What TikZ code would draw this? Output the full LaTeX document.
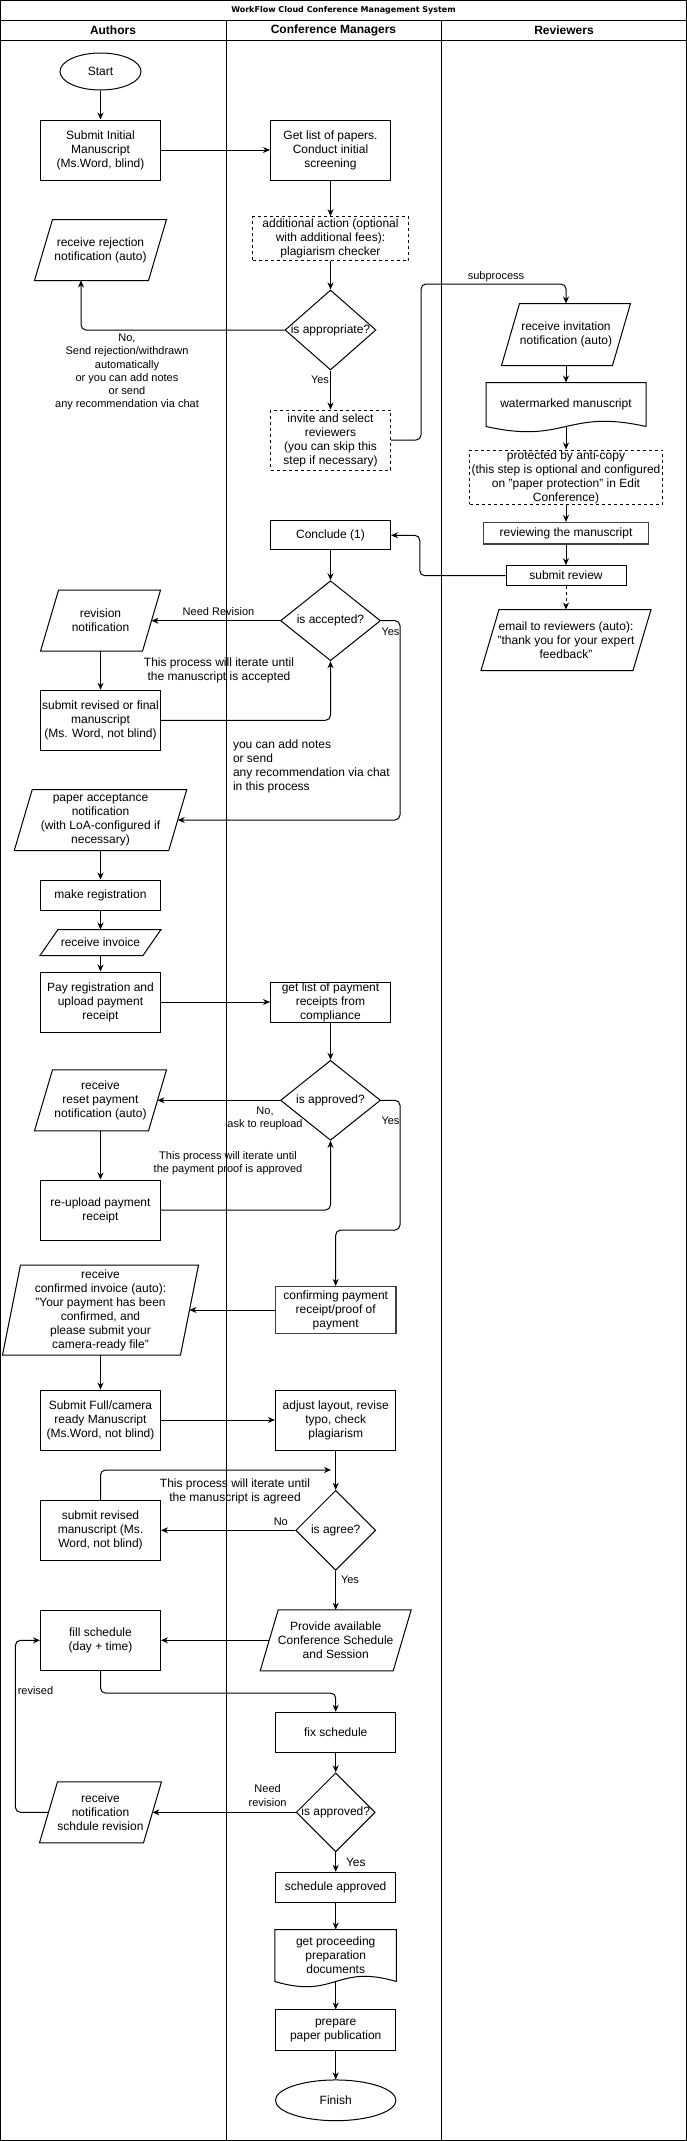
\documentclass[tikz,border=0pt]{standalone}
\usepackage{fontspec}
\setmainfont{Liberation Sans}
\newfontfamily\titlefont{DejaVu Sans}
\usetikzlibrary{shapes.geometric,arrows.meta,calc}

\tikzset{
  txt/.style={font=\fontsize{12}{14}\selectfont},
  lbl/.style={font=\fontsize{11}{13.2}\selectfont, align=center, inner sep=0pt},
  lblb/.style={font=\fontsize{12}{14}\selectfont, align=center, inner sep=0pt},
  proc/.style={txt, draw, rectangle, align=center, inner sep=1pt, minimum width=120pt, minimum height=60pt},
  dproc/.style={proc, dashed},
  gproc/.style={proc, draw=black!75, line width=1.4pt},
  io/.style={txt, align=center, inner sep=1pt, minimum height=60pt,
    append after command={\pgfextra{\draw ([xshift=9pt]\tikzlastnode.north west) -- ([xshift=9pt]\tikzlastnode.north east) -- ([xshift=-9pt]\tikzlastnode.south east) -- ([xshift=-9pt]\tikzlastnode.south west) -- cycle;}}},
  dec/.style={txt, draw, diamond, inner sep=0pt},
  term/.style={txt, draw, ellipse, inner sep=0pt},
  doc/.style={txt, align=center, inner sep=1pt, minimum width=120pt,
    append after command={\pgfextra{\draw (\tikzlastnode.south east) -- (\tikzlastnode.north east) -- (\tikzlastnode.north west) -- (\tikzlastnode.south west) .. controls ($(\tikzlastnode.south)+(0,18)$) and ($(\tikzlastnode.south)+(0,-18)$) .. (\tikzlastnode.south east);}}},
  arr/.style={-{Stealth[length=7pt,width=6pt]}, rounded corners=5pt},
}

\begin{document}
\begin{tikzpicture}[x=1pt, y=-1pt, line width=1pt]
	\useasboundingbox (0,0) rectangle (687,2141);
	\draw (0.5,0.5) rectangle (686.5,2140.5);
	\draw (0,20.7) -- (687,20.7);
	\draw (0,40.7) -- (687,40.7);
	\draw (226,20.7) -- (226,2141);
	\draw (441,20.7) -- (441,2141);
	\node[font=\titlefont\bfseries\fontsize{8}{10}\selectfont] (title) at (343.5,10.3) {WorkFlow Cloud Conference Management System};
	\node[font=\bfseries\fontsize{12}{14}\selectfont] (hauth) at (113,30.7) {Authors};
	\node[font=\bfseries\fontsize{12}{14}\selectfont] (hconf) at (333.5,30.7) {Conference Managers};
	\node[font=\bfseries\fontsize{12}{14}\selectfont] (hrev) at (564,30.7) {Reviewers};

	\node[term, minimum width=81pt, minimum height=37pt] (start) at (100.5,71.5) {Start};
	\node[proc] (subinit) at (100.5,150) {Submit Initial\\Manuscript\\(Ms.Word, blind)};
	\node[proc] (getlist) at (330.5,150) {Get list of papers.\\Conduct initial\\screening};
	\node[dproc, minimum width=156pt, minimum height=44pt] (plag) at (330.5,238.7) {additional action (optional\\with additional fees):\\plagiarism checker};
	\node[io, minimum width=113pt] (reject) at (100.5,250) {receive rejection\\notification (auto)};
	\node[dec, minimum width=91pt, minimum height=80pt] (appr) at (330.5,330) {\makebox[0pt]{is appropriate?}};
	\node[dproc] (invite) at (330.5,440) {invite and select\\reviewers\\(you can skip this\\step if necessary)};
	\coordinate (subtop) at (421,284);
	\node[io, minimum width=110pt, minimum height=61pt] (invit) at (566,334.5) {receive invitation\\notification (auto)};
	\node[doc, minimum width=159pt, minimum height=43pt] (water) at (566,404.5) {watermarked manuscript};
	\node[dproc, minimum width=193pt, minimum height=54pt, inner sep=0pt] (anti) at (566,477) {protected by anti-copy\\(this step is optional and configured\\on "paper protection" in Edit\\Conference)};
	\node[gproc, minimum width=165pt, minimum height=21.5pt] (reviewing) at (566,533.3) {reviewing the manuscript};
	\node[proc, minimum height=20pt] (subrev) at (566,575.7) {submit review};
	\node[io, minimum width=151pt] (email) at (566,640) {email to reviewers (auto):\\"thank you for your expert\\feedback"};

	\node[proc, minimum height=29.3pt] (concl) at (330.5,535.3) {Conclude (1)};
	\node[dec, minimum width=100pt, minimum height=80pt] (acc) at (330.5,620.7) {\makebox[0pt]{is accepted?}};
	\node[io, minimum width=101pt] (revnote) at (100.5,620.7) {revision\\notification};
	\node[proc] (subfinal) at (100.5,720.3) {submit revised or final\\manuscript\\(Ms. Word, not blind)};
	\node[io, minimum width=153.5pt] (accept) at (100.5,820) {paper acceptance\\notification\\(with LoA-configured if\\necessary)};
	\node[proc, minimum height=30pt] (reg) at (100.5,895) {make registration};
	\node[io, minimum width=102pt, minimum height=25pt] (invoice) at (100.5,942.5) {receive invoice};
	\node[proc] (pay) at (100.5,1002) {Pay registration and\\upload payment\\receipt};
	\node[proc, minimum height=40pt, inner sep=0pt] (receipts) at (330.5,1002) {get list of payment\\receipts from\\compliance};
	\node[dec, minimum width=100pt, minimum height=80pt] (payok) at (330.5,1100.3) {\makebox[0pt]{is approved?}};
	\node[io, minimum width=113pt] (reset) at (100.5,1100.3) {receive\\reset payment\\notification (auto)};
	\node[proc] (reupload) at (100.5,1210) {re-upload payment\\receipt};
	\coordinate (pyes) at (400,1230);
	\node[gproc, minimum width=120.5pt, minimum height=46.7pt] (confirm) at (335.7,1310) {confirming payment\\receipt/proof of\\payment};
	\node[io, minimum width=177pt, minimum height=89pt] (confinv) at (100.5,1310) {receive\\confirmed invoice (auto):\\"Your payment has been\\confirmed, and\\please submit your\\camera-ready file"};
	\node[proc] (subfull) at (100.5,1420) {Submit Full/camera\\ready Manuscript\\(Ms.Word, not blind)};
	\node[proc, minimum width=120.5pt] (layout) at (335.7,1420) {adjust layout, revise\\typo, check\\plagiarism};
	\node[dec, minimum width=80pt, minimum height=80pt] (agree) at (335.7,1530.3) {\makebox[0pt]{is agree?}};
	\node[proc] (subman) at (100.5,1530.3) {submit revised\\manuscript (Ms.\\Word, not blind)};
	\coordinate (agrend) at (331,1470);
	\node[io, minimum width=132pt] (provide) at (335.7,1640.3) {Provide available\\Conference Schedule\\and Session};
	\node[proc] (fill) at (100.5,1640.3) {fill schedule\\(day + time)};
	\node[proc, minimum width=120.5pt, minimum height=40pt] (fix) at (335.7,1732.3) {fix schedule};
	\node[dec, minimum width=79pt, minimum height=79pt] (schok) at (335.7,1812.3) {\makebox[0pt]{is approved?}};
	\node[io, minimum width=103pt] (schrev) at (100.5,1812.3) {receive\\notification\\schdule revision};
	\coordinate (rv) at (15.4,1720);
	\node[proc, minimum width=120.5pt, minimum height=30pt] (approved) at (335.7,1887.3) {schedule approved};
	\node[doc, minimum width=120.5pt, minimum height=51pt] (prep) at (335.7,1955.5) {get proceeding\\preparation\\documents};
	\node[proc, minimum width=120.5pt, minimum height=40.7pt] (publish) at (335.7,2030.3) {prepare\\paper publication};
	\node[term, minimum width=120.5pt, minimum height=40.7pt] (finish) at (335.7,2100.3) {Finish};

	\draw[arr] (start) -- (subinit);
	\draw[arr] (subinit) -- (getlist);
	\draw[arr] (getlist) -- (plag);
	\draw[arr] (plag) -- (appr);
	\draw[arr] (appr.west) -| ([xshift=-19.5pt]reject.south);
	\draw[arr] (appr) -- (invite);
	\draw[arr] (invite.east) -| (subtop) -| (invit.north);
	\draw[arr] (invit) -- (water);
	\draw[arr] (water.south) -- (anti.north);
	\draw[arr] (anti) -- (reviewing);
	\draw[arr] (reviewing) -- (subrev);
	\draw[arr, dashed] (subrev) -- (email);
	\draw[arr] (subrev.west) -- ++(-85.7,0) |- (concl.east);
	\draw[arr] (concl) -- (acc);
	\draw[arr] (acc.west) -- (revnote.east);
	\draw[arr] (revnote) -- (subfinal);
	\draw[arr] (subfinal.east) -| (acc.south);
	\draw[arr] (acc.east) -- ++(19,0) |- (accept.east);
	\draw[arr] (accept) -- (reg);
	\draw[arr] (reg) -- (invoice);
	\draw[arr] (invoice) -- (pay);
	\draw[arr] (pay) -- (receipts);
	\draw[arr] (receipts) -- (payok);
	\draw[arr] (payok.west) -- (reset.east);
	\draw[arr] (reset) -- (reupload);
	\draw[arr] (reupload.east) -| (payok.south);
	\draw[arr] (payok.east) -| (pyes) -| (confirm.north);
	\draw[arr] (confirm.west) -- (confinv.east);
	\draw[arr] (confinv) -- (subfull);
	\draw[arr] (subfull) -- (layout);
	\draw[arr] (layout) -- (agree);
	\draw[arr] (agree.west) -- (subman.east);
	\draw[arr] (subman.north) |- (agrend);
	\draw[arr] (agree) -- (provide);
	\draw[arr] (provide.west) -- (fill.east);
	\draw[arr] (fill.south) -- ++(0,22.3) -| (fix.north);
	\draw[arr] (fix) -- (schok);
	\draw[arr] (schok.west) -- (schrev.east);
	\draw[arr] (schrev.west) -| (rv) |- (fill.west);
	\draw[arr] (schok) -- (approved);
	\draw[arr] (approved) -- (prep);
	\draw[arr] (prep.south) -- (publish);
	\draw[arr] (publish) -- (finish);

	\node[lbl] (lnoapp) at (127,372) {No,\\Send rejection/withdrawn\\automatically\\or you can add notes\\or send\\any recommendation via chat};
	\node[lbl] (lyesapp) at (320,380) {Yes};
	\node[lbl] (lsub) at (496,277) {subprocess};
	\node[lbl] (lneedrev) at (218.5,611.7) {Need Revision};
	\node[lbl] (lyesacc) at (390.5,631.7) {Yes};
	\node[lblb] (liteacc) at (219,670.8) {This process will iterate until\\the manuscript is accepted};
	\node[lblb, anchor=west, align=left] (lnotes) at (232.5,766) {you can add notes\\or send\\any recommendation via chat\\in this process};
	\node[lbl] (lnopay) at (265,1118) {No,\\ask to reupload};
	\node[lbl] (lyespay) at (390.5,1120.7) {Yes};
	\node[lbl] (litepay) at (228,1163) {This process will iterate until\\the payment proof is approved};
	\node[lblb] (liteagr) at (235,1491) {This process will iterate until\\the manuscript is agreed};
	\node[lbl] (lnoagr) at (280.8,1521.7) {No};
	\node[lbl] (lyesagr) at (350,1580) {Yes};
	\node[lbl] (lrevised) at (35.5,1691) {revised};
	\node[lbl] (lneedsch) at (267.6,1795.5) {Need\\revision};
	\node[lblb] (lyessch) at (355.8,1862.7) {Yes};
\end{tikzpicture}
\end{document}
